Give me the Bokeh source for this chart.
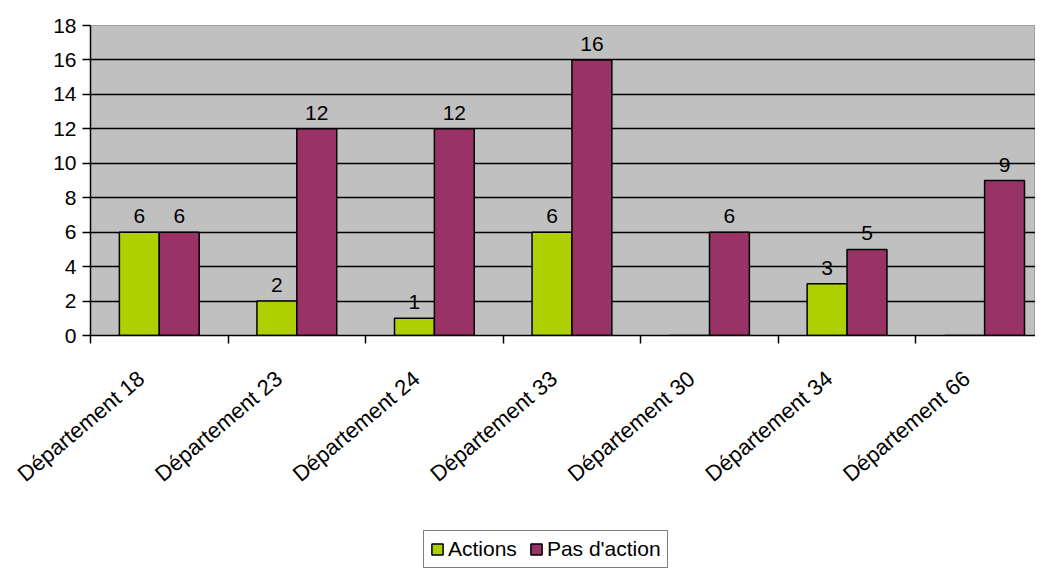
import math
from bokeh.plotting import figure
from bokeh.layouts import column
from bokeh.models import ColumnDataSource, FixedTicker, Legend, LegendItem
from bokeh.embed import file_html
from bokeh.resources import INLINE
from bokeh.core.properties import value

categories = ["Département 18", "Département 23", "Département 24", "Département 33",
              "Département 30", "Département 34", "Département 66"]
actions = [6, 2, 1, 6, 0, 3, 0]
pas_action = [6, 12, 12, 16, 6, 5, 9]
y_ticks = [0, 2, 4, 6, 8, 10, 12, 14, 16, 18]
series_names = ["Actions", "Pas d'action"]

GREEN = "#AED000"
PURPLE = "#993366"
FONT = "Liberation Sans"

n = len(categories)
centers = [i + 0.5 for i in range(n)]
label_pos = [c - 0.13 for c in centers]
x_green = [c - 0.145 for c in centers]
x_purple = [c + 0.145 for c in centers]

p = figure(width=1035, height=528, output_backend="svg", toolbar_location=None,
           x_range=(0, 6.87), y_range=(0, 18),
           min_border_left=90, min_border_right=0, min_border_top=25, min_border_bottom=193)
p.background_fill_color = "#C0C0C0"
p.border_fill_color = "white"
p.outline_line_color = "#A0A0A0"

src_g = ColumnDataSource(dict(x=x_green, top=actions))
src_p = ColumnDataSource(dict(x=x_purple, top=pas_action))
p.vbar(x="x", top="top", width=0.29, bottom=0, source=src_g,
       fill_color=GREEN, line_color="black", line_width=1.5)
p.vbar(x="x", top="top", width=0.29, bottom=0, source=src_p,
       fill_color=PURPLE, line_color="black", line_width=1.5)

# value labels
lx = [x for x, v in zip(x_green, actions) if v > 0] + x_purple
ly = [v for v in actions if v > 0] + pas_action
lt = [str(v) for v in actions if v > 0] + [str(v) for v in pas_action]
p.text(x=lx, y=ly, text=lt, text_align="center", text_baseline="bottom", y_offset=-9,
       text_font=value(FONT), text_font_size="21px", text_color="black")

# grid
p.xgrid.visible = False
p.ygrid.ticker = FixedTicker(ticks=y_ticks[1:-1])
p.ygrid.grid_line_color = "black"
p.ygrid.grid_line_width = 1.5
p.ygrid.grid_line_alpha = 1.0

# y axis
p.yaxis.ticker = FixedTicker(ticks=y_ticks)
p.yaxis.axis_line_color = "black"
p.yaxis.axis_line_width = 1.5
p.yaxis.major_tick_in = 0
p.yaxis.major_tick_out = 8
p.yaxis.major_tick_line_width = 1.5
p.yaxis.minor_tick_line_color = None
p.yaxis.major_label_text_font = FONT
p.yaxis.major_label_text_font_size = "21px"
p.yaxis.major_label_text_color = "black"
p.yaxis.major_label_standoff = 6

# x axis
p.xaxis.ticker = FixedTicker(ticks=label_pos, minor_ticks=list(range(n + 1)))
p.xaxis.major_label_overrides = {c: lab for c, lab in zip(label_pos, categories)}
p.xaxis.major_tick_line_color = None
p.xaxis.minor_tick_in = 0
p.xaxis.minor_tick_out = 8
p.xaxis.minor_tick_line_color = "black"
p.xaxis.minor_tick_line_width = 1.5
p.xaxis.axis_line_color = "black"
p.xaxis.axis_line_width = 1.5
p.xaxis.major_label_orientation = 0.70
p.xaxis.major_label_text_font = FONT
p.xaxis.major_label_text_font_size = "22px"
p.xaxis.major_label_text_color = "black"
p.xaxis.major_label_standoff = 32

# legend in its own strip below the chart
pl = figure(width=1035, height=40, output_backend="svg", toolbar_location=None,
            x_range=(0, 1), y_range=(0, 1), x_axis_type=None, y_axis_type=None,
            min_border=0)
pl.outline_line_color = None
pl.xgrid.visible = False
pl.ygrid.visible = False
lg = pl.vbar(x="x", top="top", width=0.29, source=src_g,
             fill_color=GREEN, line_color="black", line_width=1.5, visible=False)
lp = pl.vbar(x="x", top="top", width=0.29, source=src_p,
             fill_color=PURPLE, line_color="black", line_width=1.5, visible=False)
legend = Legend(items=[LegendItem(label=series_names[0], renderers=[lg]),
                       LegendItem(label=series_names[1], renderers=[lp])],
                orientation="horizontal", location=(333, 0),
                label_text_font=FONT, label_text_font_size="21px", label_text_color="black",
                glyph_width=14, glyph_height=14, spacing=12, padding=6,
                label_standoff=4, border_line_color="black", border_line_width=1.5,
                background_fill_color="white", background_fill_alpha=1.0,
                inactive_fill_alpha=0.0,
                margin=0)
pl.add_layout(legend, "center")

open("out.html", "w").write(file_html(column(p, pl, spacing=0), INLINE))
